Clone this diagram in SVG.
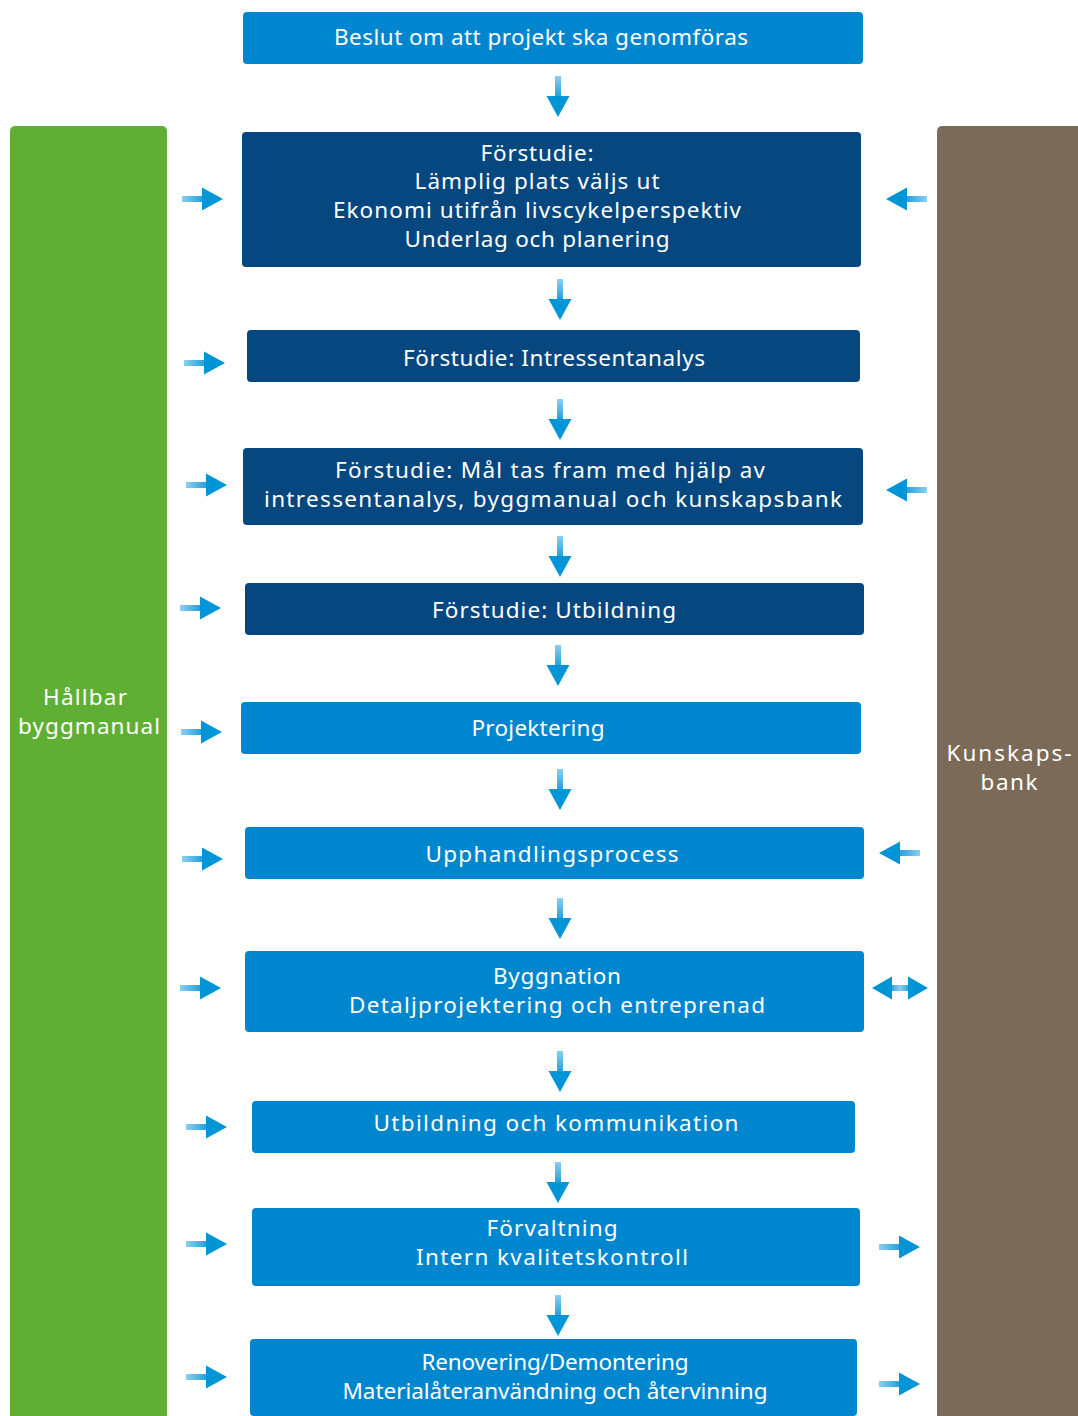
<svg xmlns="http://www.w3.org/2000/svg" xmlns:xlink="http://www.w3.org/1999/xlink" width="1078" height="1416" viewBox="0 0 1078 1416">
<style>
.mid{fill:#0086CE}
.dark{fill:#05477E}
text{font-family:"Noto Sans","Open Sans","DejaVu Sans",sans-serif;font-size:22.5px;fill:#ffffff;text-anchor:middle}
</style>
<defs>
<linearGradient id="sg" x1="0" y1="0" x2="1" y2="0">
<stop offset="0" stop-color="#8ACFF1"/>
<stop offset="1" stop-color="#1C9DDA"/>
</linearGradient>
<linearGradient id="dg" x1="0" y1="0" x2="1" y2="0">
<stop offset="0" stop-color="#1C9DDA"/>
<stop offset="0.5" stop-color="#8ACFF1"/>
<stop offset="1" stop-color="#1C9DDA"/>
</linearGradient>
<g id="arr">
<rect x="0" y="-3" width="22" height="6" fill="url(#sg)"/>
<polygon points="20,-11.5 41,0 20,11.5" fill="#0095D7"/>
</g>
<g id="darr">
<rect x="18" y="-3" width="20" height="6" fill="url(#dg)"/>
<polygon points="20,-11.5 0,0 20,11.5" fill="#0095D7"/>
<polygon points="36,-11.5 56,0 36,11.5" fill="#0095D7"/>
</g>
</defs>
<rect width="1078" height="1416" fill="#ffffff"/>

<g id="hallbar-byggmanual">
<path d="M10,131 a5,5 0 0 1 5,-5 h147 a5,5 0 0 1 5,5 V1416 H10 Z" fill="#60AF35"/>
<text x="85" y="705" textLength="84">Hållbar</text>
<text x="89" y="734" textLength="142">byggmanual</text>
</g>
<g id="kunskapsbank">
<path d="M937,131 a5,5 0 0 1 5,-5 H1078 V1416 H937 Z" fill="#7B6A58"/>
<text x="1009" y="761" textLength="125">Kunskaps-</text>
<text x="1009" y="790" textLength="57">bank</text>
</g>

<g id="n1"><rect class="mid" x="243" y="12" width="620" height="52" rx="4"/>
<text x="541" y="45" textLength="414">Beslut om att projekt ska genomföras</text></g>
<g id="n2"><rect class="dark" x="242" y="132" width="619" height="135" rx="4"/>
<text x="537" y="161" textLength="113">Förstudie:</text>
<text x="537" y="189" textLength="245">Lämplig plats väljs ut</text>
<text x="537" y="218" textLength="408">Ekonomi utifrån livscykelperspektiv</text>
<text x="537" y="247" textLength="265">Underlag och planering</text></g>
<g id="n3"><rect class="dark" x="247" y="330" width="613" height="52" rx="4"/>
<text x="554" y="366" textLength="302">Förstudie: Intressentanalys</text></g>
<g id="n4"><rect class="dark" x="243" y="448" width="620" height="77" rx="4"/>
<text x="550" y="478" textLength="430">Förstudie: Mål tas fram med hjälp av</text>
<text x="553" y="507" textLength="578">intressentanalys, byggmanual och kunskapsbank</text></g>
<g id="n5"><rect class="dark" x="245" y="583" width="619" height="52" rx="4"/>
<text x="554" y="618" textLength="244">Förstudie: Utbildning</text></g>
<g id="n6"><rect class="mid" x="241" y="702" width="620" height="52" rx="4"/>
<text x="538" y="736" textLength="133">Projektering</text></g>
<g id="n7"><rect class="mid" x="245" y="827" width="619" height="52" rx="4"/>
<text x="552" y="862" textLength="253">Upphandlingsprocess</text></g>
<g id="n8"><rect class="mid" x="245" y="951" width="619" height="81" rx="4"/>
<text x="557" y="984" textLength="128">Byggnation</text>
<text x="557" y="1013" textLength="416">Detaljprojektering och entreprenad</text></g>
<g id="n9"><rect class="mid" x="252" y="1101" width="603" height="52" rx="4"/>
<text x="556" y="1131" textLength="365">Utbildning och kommunikation</text></g>
<g id="n10"><rect class="mid" x="252" y="1208" width="608" height="78" rx="4"/>
<text x="552" y="1236" textLength="131">Förvaltning</text>
<text x="552" y="1265" textLength="272">Intern kvalitetskontroll</text></g>
<g id="n11"><rect class="mid" x="250" y="1339" width="607" height="77" rx="4"/>
<text x="555" y="1370" textLength="267">Renovering/Demontering</text>
<text x="555" y="1399" textLength="425">Materialåteranvändning och återvinning</text></g>

<g id="connectors">
<use xlink:href="#arr" transform="translate(558,76) rotate(90)"/>
<use xlink:href="#arr" transform="translate(560,279) rotate(90)"/>
<use xlink:href="#arr" transform="translate(560,399) rotate(90)"/>
<use xlink:href="#arr" transform="translate(560,536) rotate(90)"/>
<use xlink:href="#arr" transform="translate(558,645) rotate(90)"/>
<use xlink:href="#arr" transform="translate(560,769) rotate(90)"/>
<use xlink:href="#arr" transform="translate(560,898) rotate(90)"/>
<use xlink:href="#arr" transform="translate(560,1051) rotate(90)"/>
<use xlink:href="#arr" transform="translate(558,1162) rotate(90)"/>
<use xlink:href="#arr" transform="translate(558,1295) rotate(90)"/>

<use xlink:href="#arr" transform="translate(182,199)"/>
<use xlink:href="#arr" transform="translate(184,363)"/>
<use xlink:href="#arr" transform="translate(186,485)"/>
<use xlink:href="#arr" transform="translate(180,608)"/>
<use xlink:href="#arr" transform="translate(181,732)"/>
<use xlink:href="#arr" transform="translate(182,859)"/>
<use xlink:href="#arr" transform="translate(180,988)"/>
<use xlink:href="#arr" transform="translate(186,1127)"/>
<use xlink:href="#arr" transform="translate(186,1244)"/>
<use xlink:href="#arr" transform="translate(186,1377)"/>

<use xlink:href="#arr" transform="translate(927,199) rotate(180)"/>
<use xlink:href="#arr" transform="translate(927,490) rotate(180)"/>
<use xlink:href="#arr" transform="translate(920,853) rotate(180)"/>
<use xlink:href="#darr" transform="translate(872,988)"/>
<use xlink:href="#arr" transform="translate(879,1247)"/>
<use xlink:href="#arr" transform="translate(879,1384)"/>
</g>
</svg>
